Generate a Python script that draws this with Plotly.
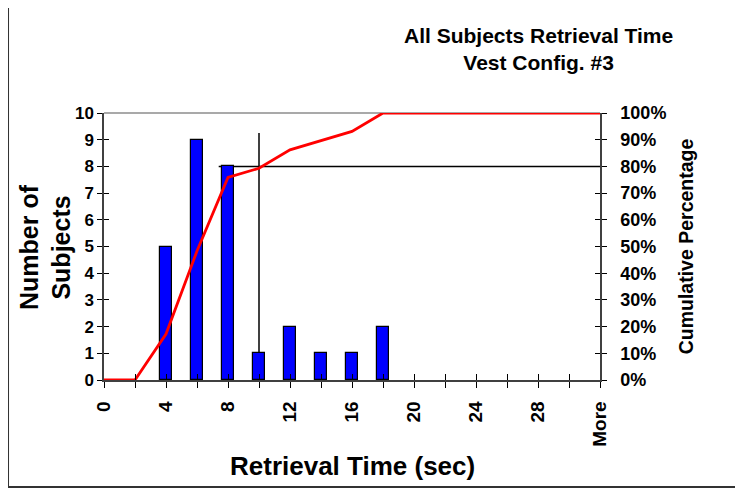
import plotly.graph_objects as go

# ---- data ----
categories = ["0", "2", "4", "6", "8", "10", "12", "14", "16", "18",
              "20", "22", "24", "26", "28", "30", "More"]
tick_labels = ["0", "", "4", "", "8", "", "12", "", "16", "", "20", "", "24", "", "28", "", "More"]
subjects = [0, 0, 5, 9, 8, 1, 2, 1, 1, 2, 0, 0, 0, 0, 0, 0, 0]
cumulative_pct = [0.0, 0.0, 0.172, 0.483, 0.759, 0.793, 0.862, 0.897, 0.931, 1.0,
                  1.0, 1.0, 1.0, 1.0, 1.0, 1.0, 1.0]
ref_time = "10"      # vertical reference line at this retrieval time
ref_pct = 0.80       # horizontal reference line at this cumulative percentage

FONT = "Arial, Liberation Sans, Helvetica, sans-serif"
AXIS_COL = "#404040"

fig = go.Figure()

fig.add_trace(go.Bar(
    x=categories, y=[v if v > 0 else None for v in subjects], width=0.36,
    marker=dict(color="#0000FF", line=dict(color="#000000", width=1.2)),
    xaxis="x", yaxis="y", showlegend=False, hoverinfo="x+y",
))
fig.add_trace(go.Scatter(
    x=categories, y=cumulative_pct, mode="lines",
    line=dict(color="#FF0000", width=2.8),
    xaxis="x", yaxis="y2", showlegend=False,
))
# helper traces so the overlay tick axes are drawn (inside half of crossing ticks)
fig.add_trace(go.Scatter(x=categories, y=[None] * len(categories), mode="lines",
                         xaxis="x3", yaxis="y", showlegend=False, hoverinfo="skip"))
fig.add_trace(go.Scatter(x=categories, y=[None] * len(categories), mode="lines",
                         xaxis="x", yaxis="y3", showlegend=False, hoverinfo="skip"))
fig.add_trace(go.Scatter(x=categories, y=[None] * len(categories), mode="lines",
                         xaxis="x", yaxis="y4", showlegend=False, hoverinfo="skip"))

ref_idx = categories.index(ref_time)

shapes = [
    # outer chart frame
    dict(type="rect", xref="paper", yref="paper",
         x0=-0.1935, x1=1.32, y0=-0.4007, y1=1.3989,
         line=dict(color="#333333", width=2), fillcolor="rgba(0,0,0,0)", layer="above"),
    # plot area top border
    dict(type="line", xref="paper", yref="paper", x0=0, x1=1, y0=1, y1=1,
         line=dict(color="#8c8c8c", width=1.5), layer="below"),
    # reference lines
    dict(type="line", xref="x", yref="paper", x0=ref_idx, x1=ref_idx, y0=0, y1=0.925,
         line=dict(color="#000000", width=1.5), layer="below"),
    dict(type="line", xref="x", yref="y2", x0=ref_idx - 1.3, x1=len(categories) - 1,
         y0=ref_pct, y1=ref_pct,
         line=dict(color="#000000", width=1.5), layer="below"),
]

fig.update_layout(
    width=743, height=489,
    margin=dict(l=96, r=151, t=105, b=117, autoexpand=False),
    paper_bgcolor="#FFFFFF", plot_bgcolor="#FFFFFF",
    font=dict(family=FONT, color="#000000"),
    bargap=0,
    shapes=shapes,
    xaxis=dict(
        type="category", categoryorder="array", categoryarray=categories,
        range=[0, len(categories) - 1],
        tickmode="array", tickvals=categories, ticktext=tick_labels,
        tickangle=-90, tickfont=dict(family=FONT, size=19, color="#000000", weight="bold"),
        ticks="outside", ticklen=6, tickwidth=1, tickcolor="#000000",
        showline=True, linecolor=AXIS_COL, linewidth=1.5,
        showgrid=False, zeroline=False, anchor="y", fixedrange=True,
        ticklabelstandoff=6,
    ),
    xaxis3=dict(
        type="category", categoryorder="array", categoryarray=categories,
        range=[0, len(categories) - 1], overlaying="x", anchor="y",
        tickmode="array", tickvals=categories,
        ticks="inside", ticklen=6, tickwidth=1, tickcolor="#000000",
        showticklabels=False, showline=False, showgrid=False, zeroline=False,
    ),
    yaxis=dict(
        range=[0, 10], dtick=1, tick0=0,
        tickfont=dict(family=FONT, size=17, color="#000000", weight="bold"),
        ticks="outside", ticklen=5, tickwidth=1, tickcolor="#000000",
        showline=True, linecolor=AXIS_COL, linewidth=1.5,
        showgrid=False, zeroline=False, anchor="x",
    ),
    yaxis3=dict(
        range=[0, 10], dtick=1, tick0=0, overlaying="y", side="left", anchor="x",
        ticks="inside", ticklen=5, tickwidth=1, tickcolor="#000000",
        showticklabels=False, showline=False, showgrid=False, zeroline=False,
    ),
    yaxis2=dict(
        range=[0, 1], dtick=0.1, tick0=0, tickformat=".0%",
        overlaying="y", side="right", anchor="x",
        tickfont=dict(family=FONT, size=18, color="#000000", weight="bold"),
        ticks="outside", ticklen=5, tickwidth=1, tickcolor="#000000",
        showline=True, linecolor=AXIS_COL, linewidth=1.5,
        showgrid=False, zeroline=False,
        ticklabelstandoff=10,
    ),
    yaxis4=dict(
        range=[0, 1], dtick=0.1, tick0=0, overlaying="y", side="right", anchor="x",
        ticks="inside", ticklen=5, tickwidth=1, tickcolor="#000000",
        showticklabels=False, showline=False, showgrid=False, zeroline=False,
    ),
    annotations=[
        dict(text="All Subjects Retrieval Time<br>Vest Config. #3",
             xref="paper", yref="paper", x=0.875, y=1.2397,
             xanchor="center", yanchor="middle", showarrow=False, align="center",
             font=dict(family=FONT, size=21, color="#000000", weight="bold")),
        dict(text="Number of<br>Subjects", textangle=-90,
             xref="paper", yref="paper", x=-0.118, y=0.5,
             xanchor="center", yanchor="middle", showarrow=False, align="center",
             font=dict(family=FONT, size=25, color="#000000", weight="bold")),
        dict(text="Cumulative Percentage", textangle=-90,
             xref="paper", yref="paper", x=1.173, y=0.5,
             xanchor="center", yanchor="middle", showarrow=False,
             font=dict(family=FONT, size=19.5, color="#000000", weight="bold")),
        dict(text="Retrieval Time (sec)",
             xref="paper", yref="paper", x=0.5, y=-0.322,
             xanchor="center", yanchor="middle", showarrow=False,
             font=dict(family=FONT, size=26, color="#000000", weight="bold")),
    ],
)

fig.write_html("out.html")
